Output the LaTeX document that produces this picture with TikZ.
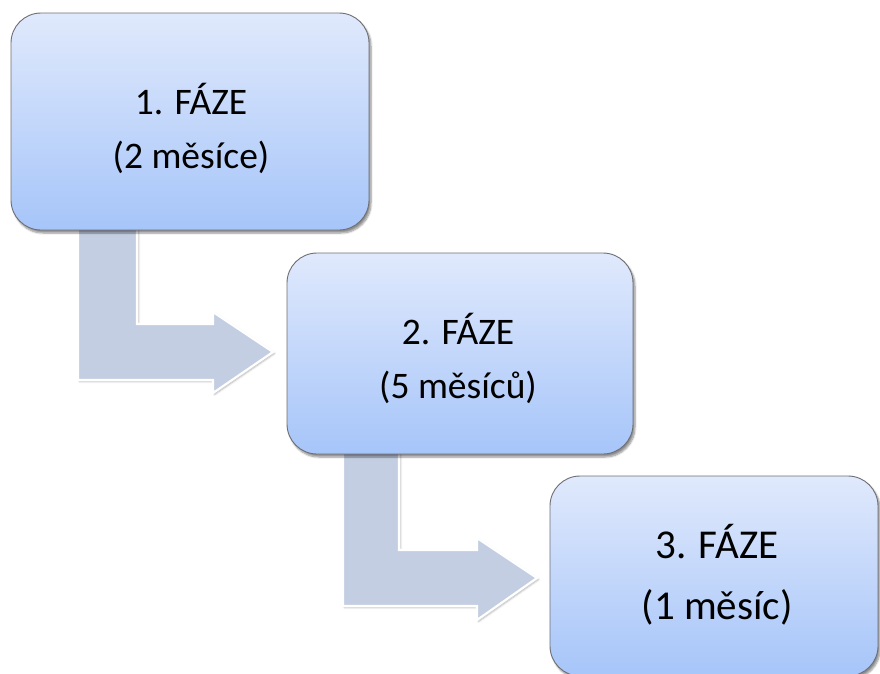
\documentclass[tikz,border=0pt]{standalone}
\usepackage{fontspec}
\setmainfont{Carlito}
\usetikzlibrary{shadows.blur,calc}
\definecolor{boxtop}{RGB}{224,233,252}
\definecolor{boxbot}{RGB}{166,197,249}
\definecolor{boxline}{RGB}{110,110,115}
\definecolor{arrowfill}{RGB}{196,206,226}
\tikzset{
  phasebox/.style={draw=boxline, line width=0.9pt, rounded corners=30pt,
    top color=boxtop, bottom color=boxbot, align=center, inner sep=0pt,
    blur shadow={shadow xshift=2pt, shadow yshift=-3pt, shadow blur steps=6, shadow opacity=45}},
  smalltext/.style={font=\fontsize{37.5}{54}\selectfont},
  bigtext/.style={font=\fontsize{41}{61}\selectfont},
  bentarrow/.style={fill=arrowfill, draw=white, line width=2.2pt, line join=miter,
    blur shadow={shadow xshift=1.5pt, shadow yshift=-1.5pt, shadow blur steps=4, shadow opacity=30}}
}
\begin{document}
\begin{tikzpicture}[x=1pt,y=-1pt]
\useasboundingbox (0,0) rectangle (880,673);
% arrows (behind boxes)
\draw[bentarrow] (78,225) -- (137,225) -- (137,324) -- (213,324) -- (213,312)
  -- (273,352) -- (213,393) -- (213,380) -- (78,380) -- cycle;
\draw[bentarrow] (343,450) -- (399,450) -- (399,550) -- (477,550) -- (477,538)
  -- (537,578) -- (477,620) -- (477,606) -- (343,606) -- cycle;
% boxes
\node[phasebox, minimum width=358pt, minimum height=217pt] (b1) at (190,121.5) {};
\node[smalltext, align=center] (t1) at (191,128) {1. FÁZE\\(2 měsíce)};
\node[phasebox, minimum width=346pt, minimum height=201pt] (b2) at (460,353.5) {};
\node[smalltext, align=center] (t2) at (458,358) {2. FÁZE\\(5 měsíců)};
\node[phasebox, minimum width=328pt, minimum height=200pt] (b3) at (714,576) {};
\node[bigtext, align=center] (t3) at (717,574.5) {3. FÁZE\\(1 měsíc)};
\end{tikzpicture}
\end{document}
